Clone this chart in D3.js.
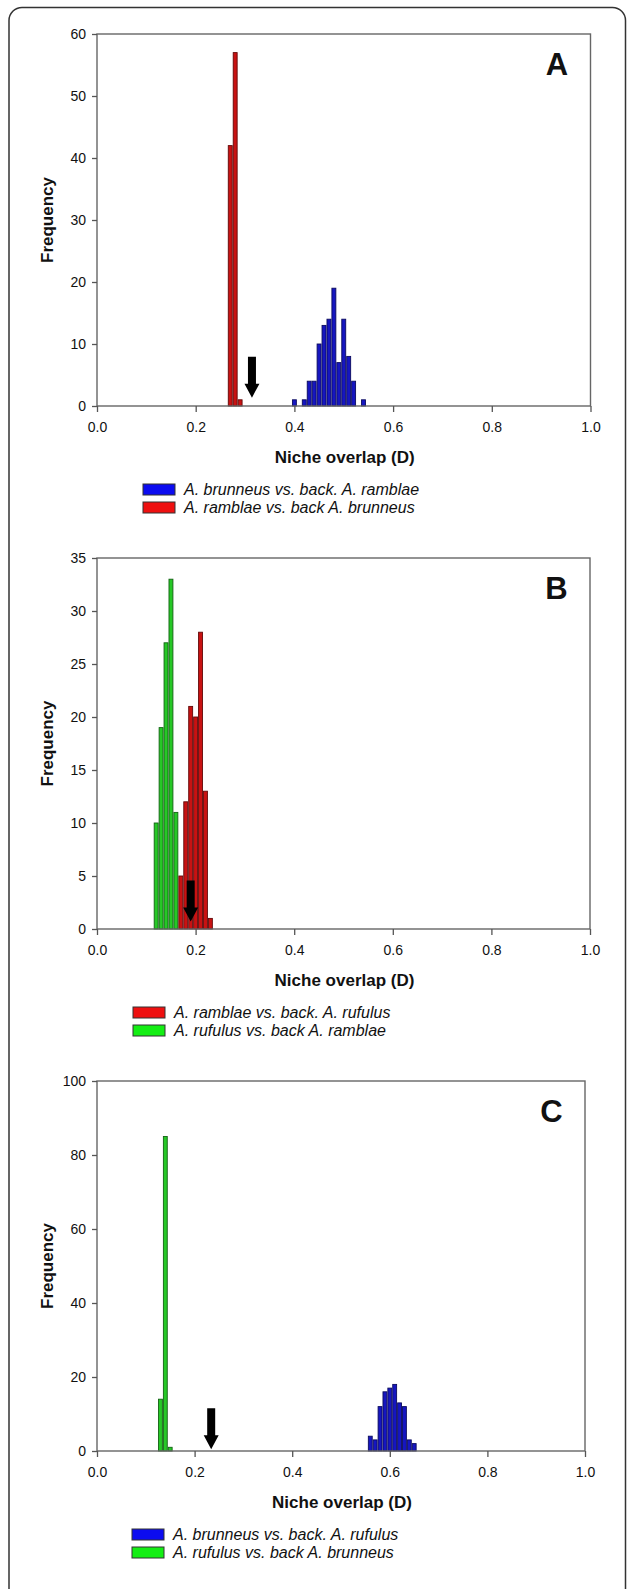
<!DOCTYPE html>
<html lang="en">
<head>
<meta charset="UTF-8">
<title>Niche overlap</title>
<style>
  body { margin: 0; background: #fff; }
  svg { display: block; }
  text { font-family: "Liberation Sans", Arial, sans-serif; fill: #111; }
</style>
</head>
<body>
<svg width="627" height="1589"></svg>
<script src="https://cdn.jsdelivr.net/npm/d3@7"></script>
<script>
// ---- data ----
var xTicks = [0, 0.2, 0.4, 0.6, 0.8, 1.0];
var binWidth = 0.01;

// panel A
var binsA_blue = [0.40, 0.42, 0.43, 0.44, 0.45, 0.46, 0.47, 0.48, 0.49, 0.50, 0.51, 0.52, 0.54];
var freqA_blue = [1, 1, 4, 4, 10, 13, 14, 19, 7, 14, 8, 4, 1];
var binsA_red = [0.27, 0.28, 0.29];
var freqA_red = [42, 57, 1];
var yTicksA = [0, 10, 20, 30, 40, 50, 60];
var legendA = ["A. brunneus vs. back. A. ramblae", "A. ramblae vs. back A. brunneus"];

// panel B
var binsB_green = [0.12, 0.13, 0.14, 0.15, 0.16];
var freqB_green = [10, 19, 27, 33, 11];
var binsB_red = [0.17, 0.18, 0.19, 0.20, 0.21, 0.22, 0.23];
var freqB_red = [5, 12, 21, 20, 28, 13, 1];
var yTicksB = [0, 5, 10, 15, 20, 25, 30, 35];
var legendB = ["A. ramblae vs. back. A. rufulus", "A. rufulus vs. back A. ramblae"];

// panel C
var binsC_green = [0.13, 0.14, 0.15];
var freqC_green = [14, 85, 1];
var binsC_blue = [0.56, 0.57, 0.58, 0.59, 0.60, 0.61, 0.62, 0.63, 0.64, 0.65];
var freqC_blue = [4, 3, 12, 16, 17, 18, 13, 12, 3, 2];
var yTicksC = [0, 20, 40, 60, 80, 100];
var legendC = ["A. brunneus vs. back. A. rufulus", "A. rufulus vs. back A. brunneus"];

// observed overlap (arrow) x position and the frequency at the arrow tip
var arrowX = [0.314, 0.19, 0.234];
var arrowTip = [1.35, 0.7, 0.45];

// bars look darker than the legend swatches (thin bars, dark outline)
var barColors = { blue: "#1616c0", red: "#c81212", green: "#26c826" };
var keyColors = { blue: "#0c0cf0", red: "#ee1010", green: "#14ee14" };

var svg = d3.select("svg");

// outer rounded frame
svg.append("rect")
  .attr("x", 9).attr("y", 7.5)
  .attr("width", 616.5).attr("height", 1620)
  .attr("rx", 13)
  .attr("fill", "none").attr("stroke", "#333").attr("stroke-width", 1.5);

var panels = [
  { letter: "A", top: 34, bottom: 406, left: 97, right: 590.5, ymax: 60, yTicks: yTicksA,
    series: [{ bins: binsA_red, freq: freqA_red, c: "red" },
             { bins: binsA_blue, freq: freqA_blue, c: "blue" }],
    legend: [{ label: legendA[0], c: "blue" }, { label: legendA[1], c: "red" }],
    legendX: 143 },
  { letter: "B", top: 558, bottom: 929, left: 97, right: 590, ymax: 35, yTicks: yTicksB,
    series: [{ bins: binsB_green, freq: freqB_green, c: "green" },
             { bins: binsB_red, freq: freqB_red, c: "red" }],
    legend: [{ label: legendB[0], c: "red" }, { label: legendB[1], c: "green" }],
    legendX: 133 },
  { letter: "C", top: 1081, bottom: 1451, left: 97, right: 585, ymax: 100, yTicks: yTicksC,
    series: [{ bins: binsC_green, freq: freqC_green, c: "green" },
             { bins: binsC_blue, freq: freqC_blue, c: "blue" }],
    legend: [{ label: legendC[0], c: "blue" }, { label: legendC[1], c: "green" }],
    legendX: 132 }
];

panels.forEach(function(p, pi) {
  var x = d3.scaleLinear().domain([0, 1]).range([p.left, p.right]);
  var y = d3.scaleLinear().domain([0, p.ymax]).range([p.bottom, p.top]);
  var g = svg.append("g");

  // bars
  p.series.forEach(function(s) {
    var data = s.bins.map(function(b, i) { return { x: b, v: s.freq[i] }; });
    g.append("g").selectAll("rect")
      .data(data)
      .enter()
      .append("rect")
      .attr("x", function(d) { return x(d.x - binWidth / 2) + 0.5; })
      .attr("width", function(d) { return x(binWidth) - x(0) - 1; })
      .attr("y", function(d) { return y(d.v); })
      .attr("height", function(d) { return y(0) - y(d.v); })
      .attr("fill", barColors[s.c])
      .attr("stroke", d3.color(barColors[s.c]).darker(2))
      .attr("stroke-width", 0.9);
  });

  // plot box
  g.append("rect")
    .attr("x", p.left).attr("y", p.top)
    .attr("width", p.right - p.left).attr("height", p.bottom - p.top)
    .attr("fill", "none").attr("stroke", "#666").attr("stroke-width", 1.4);

  // axes
  var xAxis = g.append("g")
    .attr("transform", "translate(0," + p.bottom + ")")
    .call(d3.axisBottom(x).tickValues(xTicks).tickSize(6).tickPadding(10).tickFormat(d3.format(".1f")));
  var yAxis = g.append("g")
    .attr("transform", "translate(" + p.left + ",0)")
    .call(d3.axisLeft(y).tickValues(p.yTicks).tickSize(5).tickPadding(6).tickFormat(d3.format("d")));
  [xAxis, yAxis].forEach(function(a) {
    a.select(".domain").remove();
    a.selectAll("line").attr("stroke", "#555").attr("stroke-width", 1.3);
    a.selectAll("text").attr("font-size", 14).attr("fill", "#111")
      .style("font-family", "'Liberation Sans', Arial, sans-serif");
  });

  // axis titles
  g.append("text")
    .attr("transform", "translate(53," + ((p.top + p.bottom) / 2) + ") rotate(-90)")
    .attr("text-anchor", "middle")
    .attr("font-size", 17).attr("font-weight", "bold")
    .text("Frequency");
  g.append("text")
    .attr("x", (p.left + p.right) / 2 + 1)
    .attr("y", p.bottom + 57)
    .attr("text-anchor", "middle")
    .attr("font-size", 17).attr("font-weight", "bold")
    .text("Niche overlap (D)");

  // panel letter
  g.append("text")
    .attr("x", p.right - 33.5)
    .attr("y", p.top + 41)
    .attr("text-anchor", "middle")
    .attr("font-size", 31).attr("font-weight", "bold")
    .text(p.letter);

  // arrow for observed value
  var ax = x(arrowX[pi]), tip = y(arrowTip[pi]);
  g.append("path")
    .attr("d", "M" + (ax - 4) + "," + (tip - 41) +
               "H" + (ax + 4) + "V" + (tip - 14) +
               "H" + (ax + 7.5) + "L" + ax + "," + tip +
               "L" + (ax - 7.5) + "," + (tip - 14) +
               "H" + (ax - 4) + "Z")
    .attr("fill", "#000");

  // legend
  var lg = g.append("g").selectAll("g")
    .data(p.legend)
    .enter()
    .append("g")
    .attr("transform", function(d, i) { return "translate(" + p.legendX + "," + (p.bottom + 78 + i * 18) + ")"; });
  lg.append("rect")
    .attr("width", 32).attr("height", 11)
    .attr("fill", function(d) { return keyColors[d.c]; })
    .attr("stroke", "#333").attr("stroke-width", 1);
  lg.append("text")
    .attr("x", 41).attr("y", 11)
    .attr("font-size", 16).attr("font-style", "italic")
    .text(function(d) { return d.label; });
});
</script>
</body>
</html>
